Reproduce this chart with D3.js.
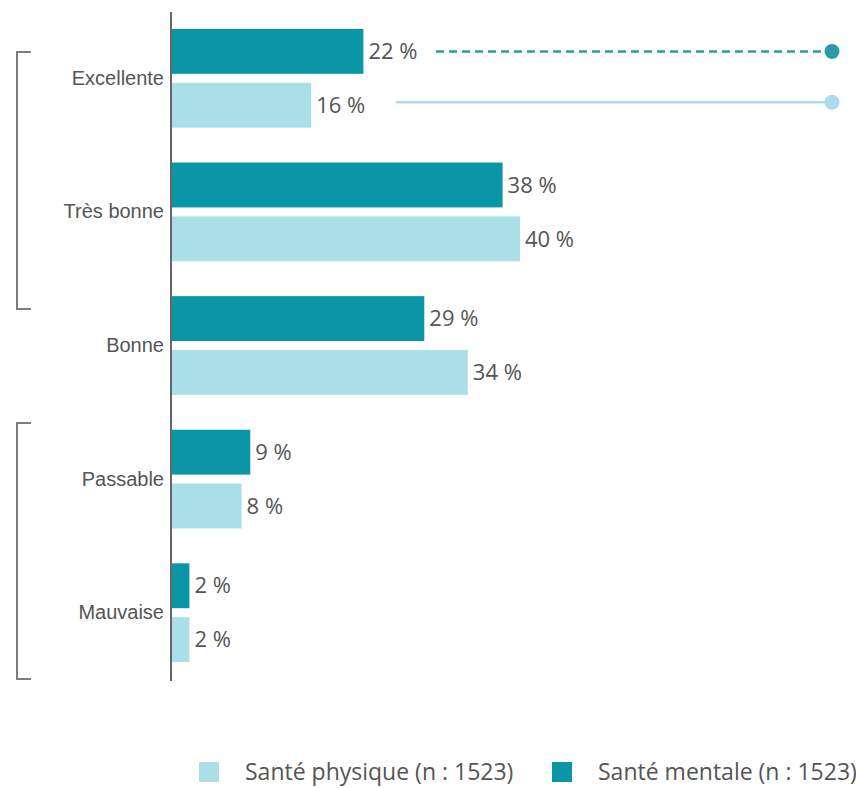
<!DOCTYPE html>
<html>
<head>
<meta charset="utf-8">
<script src="https://cdn.jsdelivr.net/npm/d3@7"></script>
<style>
  html, body { margin: 0; padding: 0; background: #fff; }
  svg { display: block; }
</style>
</head>
<body>
<svg id="chart" width="856" height="788"></svg>
<script>
// Self-rated health, by category
const categories = ["Excellente", "Très bonne", "Bonne", "Passable", "Mauvaise"];
const mentale = [22, 38, 29, 9, 2];
const physique = [16, 40, 34, 8, 2];
const seriesKeys = ["mentale", "physique"];
const seriesLabels = {
  physique: "Santé physique (n : 1523)",
  mentale: "Santé mentale (n : 1523)"
};
const legendOrder = ["physique", "mentale"];
const colors = { mentale: "#0a96a6", physique: "#aadfe8" };
const dotColors = { mentale: "#2b9aa8", physique: "#aadde7" };

const svg = d3.select("#chart");
const x0 = 172;

const x = d3.scaleLinear().domain([0, 40]).range([x0, x0 + 348]);

const y = d3.scaleBand()
  .domain(categories)
  .range([11.5, 679.5])
  .paddingInner(0.261)
  .paddingOuter(0.1306);

const ySub = d3.scaleBand()
  .domain(seriesKeys)
  .range([0, y.bandwidth()])
  .paddingInner(0.1667);

const rows = categories.map((c, i) => ({
  cat: c,
  values: [
    { key: "mentale", v: mentale[i] },
    { key: "physique", v: physique[i] }
  ]
}));

// bars
const groups = svg.append("g").selectAll("g")
  .data(rows)
  .join("g")
  .attr("transform", d => `translate(0,${y(d.cat)})`);

groups.selectAll("rect")
  .data(d => d.values)
  .join("rect")
  .attr("x", x(0))
  .attr("y", d => ySub(d.key))
  .attr("width", d => x(d.v) - x(0))
  .attr("height", ySub.bandwidth())
  .attr("fill", d => colors[d.key]);

groups.selectAll("text.val")
  .data(d => d.values)
  .join("text")
  .attr("class", "val")
  .attr("x", d => x(d.v) + 5)
  .attr("y", d => ySub(d.key) + ySub.bandwidth() / 2)
  .attr("dy", "0.35em")
  .attr("font-family", "'Open Sans', sans-serif")
  .attr("font-size", 22)
  .attr("fill", "#555")
  .text(d => `${d.v} %`);

// category axis
const yAxis = d3.axisLeft(y).tickSize(0).tickPadding(7);
const ax = svg.append("g")
  .attr("transform", `translate(${x0 - 1},0)`)
  .call(yAxis);
ax.select(".domain").remove();
ax.selectAll("text")
  .attr("font-family", "'Liberation Sans', Arial, sans-serif")
  .attr("font-size", 20)
  .attr("fill", "#555");

svg.append("line")
  .attr("x1", x0 - 1).attr("x2", x0 - 1)
  .attr("y1", 12).attr("y2", 681)
  .attr("stroke", "#666").attr("stroke-width", 2);

// brackets grouping the top and bottom ratings
const brackets = [[52, 309], [423, 679]];
svg.append("g").selectAll("path")
  .data(brackets)
  .join("path")
  .attr("d", d => `M31,${d[0]} H17 V${d[1]} H31`)
  .attr("fill", "none")
  .attr("stroke", "#7a7d88")
  .attr("stroke-width", 2);

// leader lines from the first category to the right edge
const first = rows[0];
const leaders = [
  { key: "mentale", x1: 436, dash: "8,5", yOff: 0 },
  { key: "physique", x1: 396, dash: null, yOff: -3 }
];
const lg = svg.append("g");
leaders.forEach(l => {
  const cy = y(first.cat) + ySub(l.key) + ySub.bandwidth() / 2 + l.yOff;
  lg.append("line")
    .attr("x1", l.x1).attr("x2", 832)
    .attr("y1", cy).attr("y2", cy)
    .attr("stroke", dotColors[l.key])
    .attr("stroke-width", 2.5)
    .attr("stroke-dasharray", l.dash);
  lg.append("circle")
    .attr("cx", 832).attr("cy", cy).attr("r", 7.5)
    .attr("fill", dotColors[l.key]);
});

// legend
const legendPos = { physique: 199, mentale: 552 };
const leg = svg.append("g").selectAll("g")
  .data(legendOrder)
  .join("g")
  .attr("transform", d => `translate(${legendPos[d]},762)`);
leg.append("rect")
  .attr("width", 20).attr("height", 20)
  .attr("fill", d => colors[d]);
leg.append("text")
  .attr("x", 46).attr("y", 10)
  .attr("dy", "0.35em")
  .attr("font-family", "'Open Sans', sans-serif")
  .attr("font-size", 23)
  .attr("fill", "#555")
  .text(d => seriesLabels[d]);
</script>
</body>
</html>
